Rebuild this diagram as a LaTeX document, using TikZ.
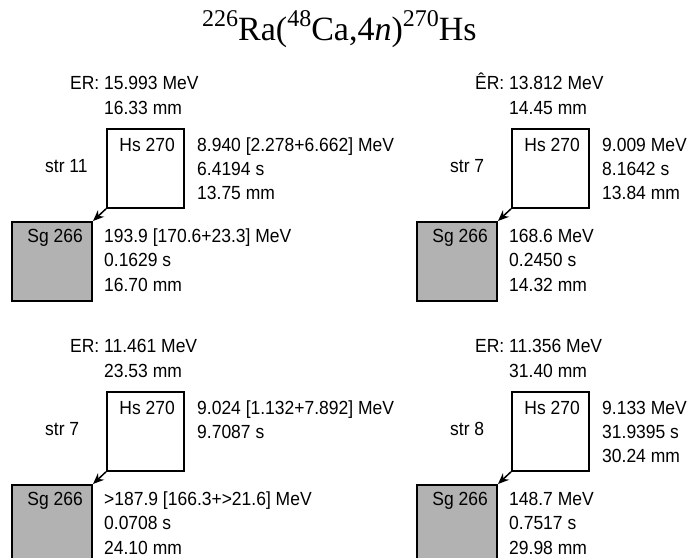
\documentclass[tikz,border=0pt]{standalone}
\usepackage{fontspec}
\setmainfont{Liberation Sans}[FakeStretch=0.92]
\newfontfamily\titlefont{Liberation Serif}
\usetikzlibrary{arrows.meta}
\newcommand\tsup[1]{\raisebox{14pt}{\fontsize{24}{24}\selectfont #1}}
\tikzset{
  txt/.style={inner sep=0pt, font=\fontsize{19}{22}\selectfont},
  hsbox/.style={draw=black, line width=1.8pt, fill=white, minimum width=77pt, minimum height=79pt, inner sep=0pt},
  sgbox/.style={draw=black, line width=1.8pt, fill=black!30, minimum width=80pt, minimum height=79pt, inner sep=0pt},
  decay/.style={line width=1.5pt, -{Stealth[length=11pt,width=9pt]}}
}
% #1 prefix, #2 ER label, #3 ER value, #4 mm, #5 str, #6 Hs lines, #7 Sg lines
\newcommand\dpanel[7]{%
  \node[hsbox, anchor=north west] (#1hs) at (0,0) {};
  \node[sgbox, anchor=north east] (#1sg) at (-13,93) {};
  \draw[decay] (#1hs.south west) -- (#1sg.north east);
  \node[txt, anchor=base east] (#1hslab) at (69,23) {Hs 270};
  \node[txt, anchor=base east] (#1sglab) at (-23,114) {Sg 266};
  \node[txt, anchor=base west] (#1er) at (-2,-39) {\llap{#2\ }#3};
  \node[txt, anchor=base west] (#1mm) at (-2,-14) {#4};
  \node[txt, anchor=base west] (#1str) at (-61,44) {#5};
  \foreach \t [count=\i] in {#6} {
    \node[txt, anchor=base west] (#1hst\i) at (91,{23+24*(\i-1)}) {\t};
  }
  \foreach \t [count=\i] in {#7} {
    \node[txt, anchor=base west] (#1sgt\i) at (-2,{114+24.5*(\i-1)}) {\t};
  }
}
\begin{document}
\begin{tikzpicture}[x=1pt,y=-1pt]
\useasboundingbox (0,0) rectangle (692,557);
\fill[white] (0,0) rectangle (692,557);
\node[inner sep=0pt, anchor=base west] (title) at (202,40)
  {\titlefont\fontsize{34}{38}\selectfont\tsup{226}Ra(\tsup{48}Ca,4\textit{n})\tsup{270}Hs};
\begin{scope}[shift={(106,128)}]
  \dpanel{a}{ER:}{15.993 MeV}{16.33 mm}{str 11}
    {{8.940 [2.278+6.662] MeV},{6.4194 s},{13.75 mm}}
    {{193.9 [170.6+23.3] MeV},{0.1629 s},{16.70 mm}}
\end{scope}
\begin{scope}[shift={(511,128)}]
  \dpanel{b}{ÊR:}{13.812 MeV}{14.45 mm}{str 7}
    {{9.009 MeV},{8.1642 s},{13.84 mm}}
    {{168.6 MeV},{0.2450 s},{14.32 mm}}
\end{scope}
\begin{scope}[shift={(106,391)}]
  \dpanel{c}{ER:}{11.461 MeV}{23.53 mm}{str 7}
    {{9.024 [1.132+7.892] MeV},{9.7087 s}}
    {{>187.9 [166.3+>21.6] MeV},{0.0708 s},{24.10 mm}}
\end{scope}
\begin{scope}[shift={(511,391)}]
  \dpanel{d}{ER:}{11.356 MeV}{31.40 mm}{str 8}
    {{9.133 MeV},{31.9395 s},{30.24 mm}}
    {{148.7 MeV},{0.7517 s},{29.98 mm}}
\end{scope}
\end{tikzpicture}
\end{document}
